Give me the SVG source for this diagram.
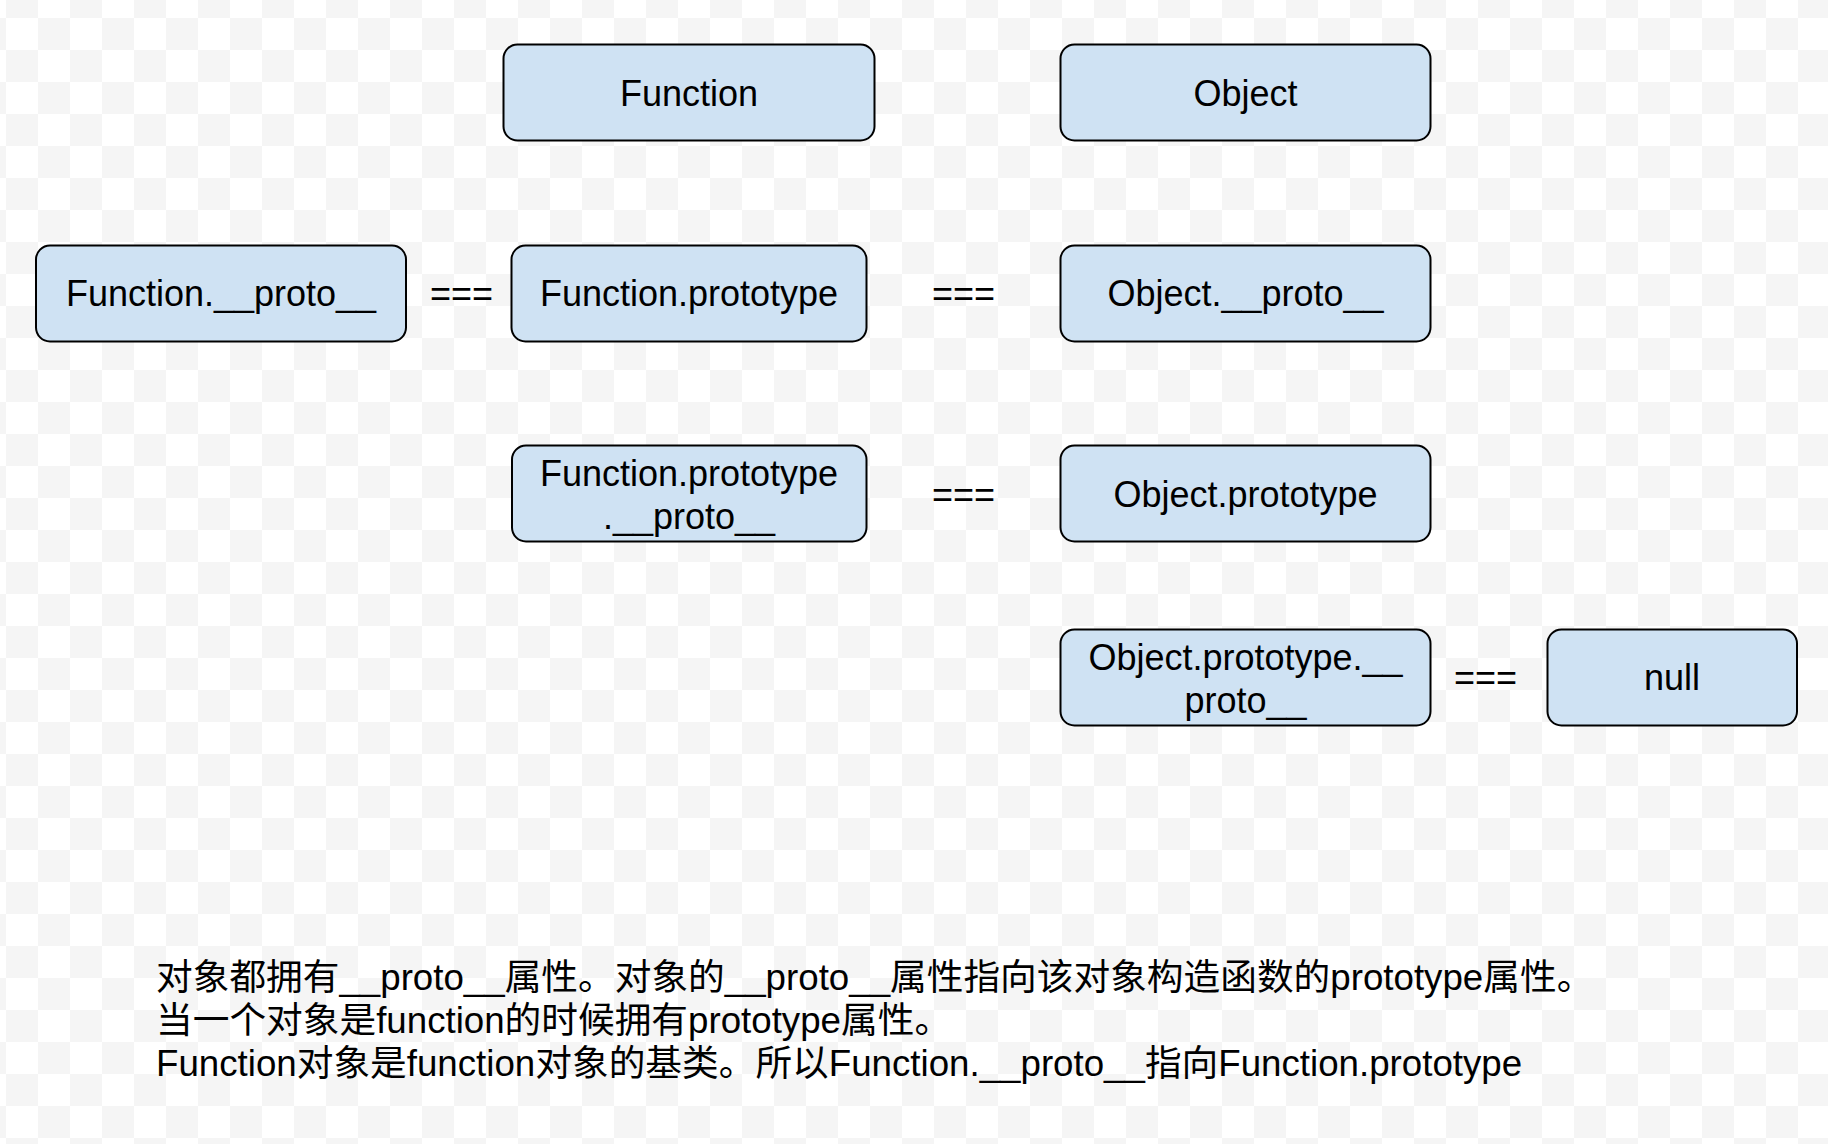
<svg xmlns="http://www.w3.org/2000/svg" width="1828" height="1144" viewBox="0 0 1828 1144">
  <defs>
    <pattern id="checker" x="6" y="18" width="64" height="64" patternUnits="userSpaceOnUse">
      <rect x="0" y="0" width="64" height="64" fill="#ffffff"/>
      <rect x="32" y="0" width="32" height="32" fill="#f5f5f5"/>
      <rect x="0" y="32" width="32" height="32" fill="#f5f5f5"/>
    </pattern>
    <style>
      .box { fill: #cfe2f3; stroke: #000000; stroke-width: 2; }
      .lbl { font-family: "Liberation Sans", Arial, "Noto Sans CJK SC", sans-serif; font-size: 36px; fill: #000000; text-anchor: middle; }
      .eq { font-family: "Liberation Sans", Arial, sans-serif; font-size: 36px; fill: #000000; text-anchor: middle; }
      .note { font-family: "Liberation Sans", Arial, "Noto Sans CJK SC", sans-serif; font-size: 36.7px; fill: #000000; }
    </style>
  </defs>

  <rect x="0" y="0" width="1828" height="1144" fill="url(#checker)"/>

  <g id="node-function">
    <rect class="box" x="503.5" y="44.5" width="371" height="96" rx="14" ry="14"/>
    <text class="lbl" x="689" y="106">Function</text>
  </g>

  <g id="node-object">
    <rect class="box" x="1060.5" y="44.5" width="370" height="96" rx="14" ry="14"/>
    <text class="lbl" x="1245.5" y="106">Object</text>
  </g>

  <g id="node-function-proto">
    <rect class="box" x="36" y="245.5" width="370" height="96" rx="14" ry="14"/>
    <text class="lbl" x="221" y="306">Function.__proto__</text>
  </g>

  <g id="node-function-prototype">
    <rect class="box" x="511.5" y="245.5" width="355" height="96" rx="14" ry="14"/>
    <text class="lbl" x="689" y="306">Function.prototype</text>
  </g>

  <g id="node-object-proto">
    <rect class="box" x="1060.5" y="245.5" width="370" height="96" rx="14" ry="14"/>
    <text class="lbl" x="1245.5" y="306">Object.__proto__</text>
  </g>

  <g id="node-function-prototype-proto">
    <rect class="box" x="512" y="445.5" width="354.5" height="96" rx="14" ry="14"/>
    <text class="lbl" x="689" y="486">Function.prototype</text>
    <text class="lbl" x="689" y="529">.__proto__</text>
  </g>

  <g id="node-object-prototype">
    <rect class="box" x="1060.5" y="445.5" width="370" height="96" rx="14" ry="14"/>
    <text class="lbl" x="1245.5" y="507">Object.prototype</text>
  </g>

  <g id="node-object-prototype-proto">
    <rect class="box" x="1060.5" y="629.5" width="370" height="96" rx="14" ry="14"/>
    <text class="lbl" x="1245.5" y="670">Object.prototype.__</text>
    <text class="lbl" x="1245.5" y="713">proto__</text>
  </g>

  <g id="node-null">
    <rect class="box" x="1547.5" y="629.5" width="249.5" height="96" rx="14" ry="14"/>
    <text class="lbl" x="1672" y="690">null</text>
  </g>

  <g id="connectors">
    <text class="eq" x="461.5" y="306">===</text>
    <text class="eq" x="963.5" y="306">===</text>
    <text class="eq" x="963.5" y="507">===</text>
    <text class="eq" x="1485.5" y="690">===</text>
  </g>

  <g id="note">
    <text class="note" x="156" y="990">对象都拥有__proto__属性。对象的__proto__属性指向该对象构造函数的prototype属性。</text>
    <text class="note" x="156" y="1033">当一个对象是function的时候拥有prototype属性。</text>
    <text class="note" x="156" y="1076">Function对象是function对象的基类。所以Function.__proto__指向Function.prototype</text>
  </g>
</svg>
